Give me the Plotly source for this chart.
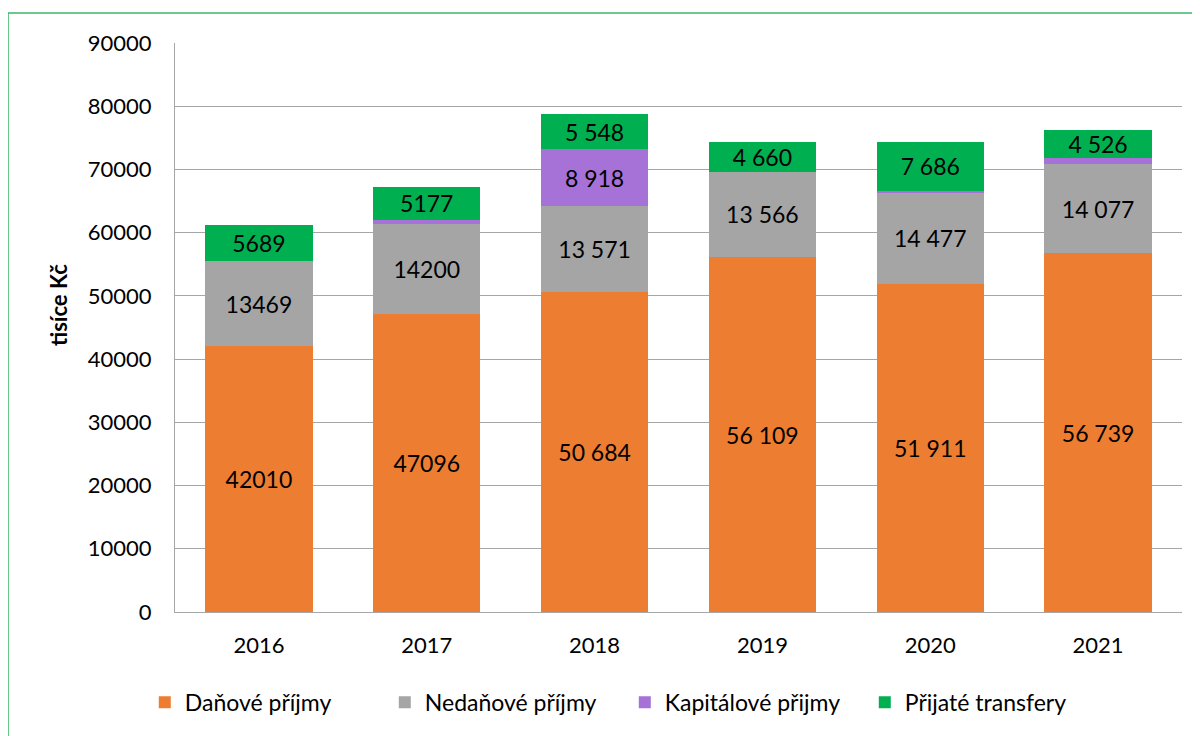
import plotly.graph_objects as go

years = ["2016", "2017", "2018", "2019", "2020", "2021"]
danove = [42010, 47096, 50684, 56109, 51911, 56739]
nedanove = [13469, 14200, 13571, 13566, 14477, 14077]
kapitalove = [0, 740, 8918, 0, 280, 950]
transfery = [5689, 5177, 5548, 4660, 7686, 4526]

danove_lbl = ["42010", "47096", "50 684", "56 109", "51 911", "56 739"]
nedanove_lbl = ["13469", "14200", "13 571", "13 566", "14 477", "14 077"]
kapitalove_lbl = ["", "", "8 918", "", "", ""]
transfery_lbl = ["5689", "5177", "5 548", "4 660", "7 686", "4 526"]

FONT = "Lato"
series = [
    ("Daňové příjmy", danove, danove_lbl, "#ED7D31"),
    ("Nedaňové příjmy", nedanove, nedanove_lbl, "#A5A5A5"),
    ("Kapitálové přijmy", kapitalove, kapitalove_lbl, "#A672D8"),
    ("Přijaté transfery", transfery, transfery_lbl, "#00B050"),
]

fig = go.Figure()
for name, vals, lbls, col in series:
    fig.add_trace(go.Bar(
        x=years, y=vals, name=name, marker=dict(color=col, line=dict(width=0)),
        text=lbls, textposition="inside", insidetextanchor="middle",
        textangle=0, constraintext="none",
        textfont=dict(family=FONT, size=23, color="black"),
        cliponaxis=False,
    ))

# page body has an 8px margin; plot area target: x 175..1182, y 43..612
fig.update_layout(
    barmode="stack", bargap=0.36,
    width=1200, height=736,
    margin=dict(l=167, r=26, t=35, b=132, autoexpand=False),
    paper_bgcolor="white", plot_bgcolor="white",
    font=dict(family=FONT, size=22, color="black"),
    legend=dict(orientation="h", x=-0.03, xanchor="left", y=-0.121, yanchor="top",
                font=dict(family=FONT, size=23), itemwidth=30, traceorder="normal",
                entrywidth=195, entrywidthmode="pixels", itemsizing="constant"),
    showlegend=True,
)
fig.update_yaxes(range=[0, 90000], dtick=10000, tickformat="d",
                 showgrid=True, gridcolor="#A6A6A6", gridwidth=1,
                 showline=True, linecolor="#A6A6A6", linewidth=1,
                 ticks="", ticklen=0, zeroline=False, automargin=False,
                 tickfont=dict(family=FONT, size=22), ticklabelstandoff=18)
fig.update_xaxes(showline=True, linecolor="#A6A6A6", linewidth=1, automargin=False,
                 tickfont=dict(family=FONT, size=22), ticks="", ticklabelstandoff=14)

fig.add_annotation(text="<b>tisíce Kč</b>", xref="paper", yref="paper",
                   x=-0.1162, y=0.5395, xanchor="center", yanchor="middle",
                   textangle=-90, showarrow=False, font=dict(family=FONT, size=22))

fig.add_shape(type="rect", xref="paper", yref="paper",
              x0=-0.1658, x1=1.2, y0=-0.5, y1=1.0527,
              line=dict(color="#3DB86A", width=1.5), fillcolor="rgba(0,0,0,0)", layer="below")

fig.write_html("out.html")
